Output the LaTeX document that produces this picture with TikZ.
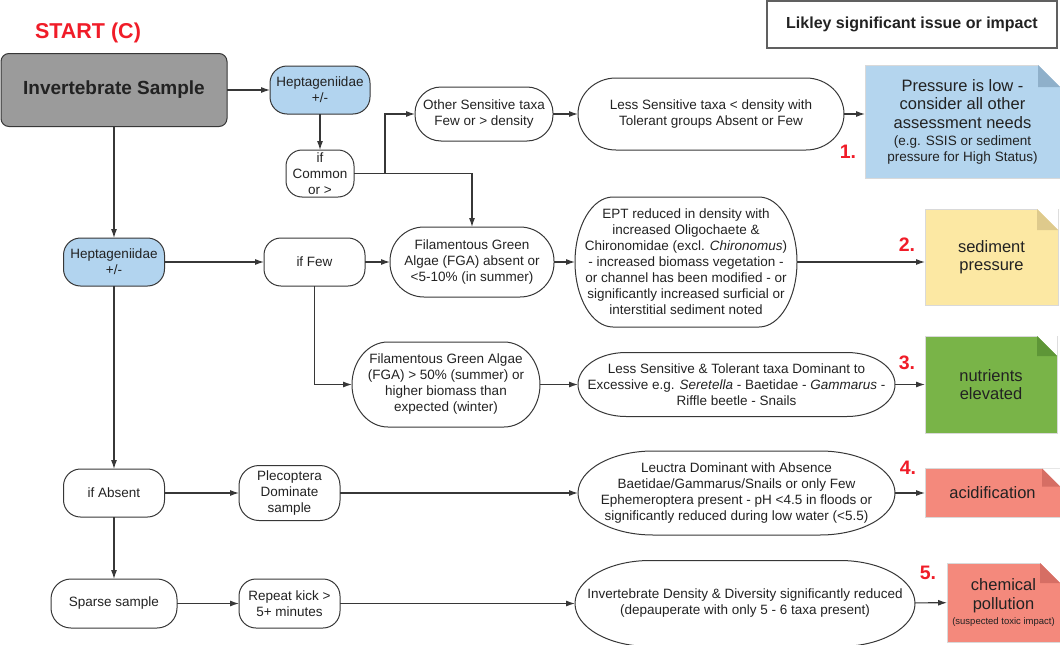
\documentclass[tikz,border=0pt]{standalone}
\usepackage{fontspec}
\setmainfont{Liberation Sans}
\usetikzlibrary{arrows.meta}

\definecolor{boxgray}{RGB}{155,155,155}
\definecolor{hepblue}{RGB}{178,212,239}
\definecolor{noteblue}{RGB}{180,213,238}
\definecolor{earblue}{RGB}{143,176,202}
\definecolor{noteyellow}{RGB}{252,232,163}
\definecolor{earyellow}{RGB}{222,202,140}
\definecolor{notegreen}{RGB}{121,180,72}
\definecolor{eargreen}{RGB}{94,150,55}
\definecolor{notered}{RGB}{244,137,124}
\definecolor{earred}{RGB}{214,110,100}
\definecolor{startred}{RGB}{240,28,40}
\definecolor{linegray}{RGB}{55,55,55}
\definecolor{txt}{RGB}{34,34,34}

\begin{document}
\begin{tikzpicture}[x=1pt,y=-1pt]
	\useasboundingbox (0,0) rectangle (1060,645);
	
	\tikzset{pill/.style = {draw=linegray, line width=1pt, rounded corners=17pt, align=center, inner sep=0pt, outer sep=0pt, text=txt, font=\fontsize{13.5}{16}\selectfont}};
	\tikzset{bluepill/.style = {pill, fill=hepblue}};
	\tikzset{capsule/.style = {align=center, inner sep=0pt, outer sep=0pt, text=txt, font=\fontsize{13.5}{16}\selectfont}};
	\tikzset{note/.style = {draw=black!15, line width=0.6pt, inner sep=0pt, outer sep=0pt, align=center, text=txt, font=\fontsize{16.5}{18.5}\selectfont}};
	\tikzset{flow/.style = {draw=linegray, line width=1.1pt, -{Latex[length=9pt,width=6pt]}}};
	\tikzset{tag/.style = {text=startred, font=\bfseries\fontsize{19.5}{22}\selectfont}};
	
	%outline of the long boxes
	\newcommand{\capsuleline}[3]
	{
		\draw[draw=linegray, line width=1pt] ([xshift=#2]#1.north west) -- ([xshift=-#2]#1.north east)
			arc[start angle=90, end angle=-90, x radius=#2, y radius=#3]
			-- ([xshift=#2]#1.south west)
			arc[start angle=270, end angle=90, x radius=#2, y radius=#3] -- cycle;
	};
	%folded corner
	\newcommand{\dogear}[3]
	{
		\fill[white] ([xshift=-#2]#1.north east) -- (#1.north east) -- ([yshift=-#2]#1.north east) -- cycle;
		\fill[#3] ([xshift=-#2]#1.north east) -- ([xshift=-#2,yshift=-#2]#1.north east) -- ([yshift=-#2]#1.north east) -- cycle;
	};
	
	%head
	\node[tag, font=\bfseries\fontsize{21.5}{24}\selectfont] (start) at (88,33) {START (C)};
	\node[draw=gray!75!black, line width=1.5pt, minimum width=290pt, minimum height=47pt, text=txt, font=\bfseries\fontsize{16}{18}\selectfont] (legend) at (912,24.5) {Likley significant issue or impact};
	\node[pill, fill=boxgray, rounded corners=8pt, minimum width=226pt, minimum height=73pt, font=\bfseries\fontsize{19}{22}\selectfont] (sample) at (114,90) {Invertebrate Sample};
	
	%row 1
	\node[bluepill, minimum width=100pt, minimum height=48pt] (heptA) at (320,90) {Heptageniidae\\+/-};
	\node[pill, rounded corners=16pt, minimum width=68pt, minimum height=47pt] (common) at (320,173.5) {if\\Common\\or >};
	\node[pill, rounded corners=26pt, minimum width=138pt, minimum height=54pt] (other) at (484,114) {Other Sensitive taxa\\Few or > density};
	\node[capsule, minimum width=266pt, minimum height=72pt] (lessA) at (711,114) {Less Sensitive taxa < density with\\Tolerant groups Absent or Few};
	\capsuleline{lessA}{38pt}{36pt}
	\node[note, fill=noteblue, minimum width=195pt, minimum height=113pt] (pressure) at (962.5,121.5) {Pressure is low -\\consider all other\\assessment needs\\[-1pt]{\fontsize{13.5}{16}\selectfont (e.g. SSIS or sediment}\\[-3pt]{\fontsize{13.5}{16}\selectfont pressure for High Status)}};
	\dogear{pressure}{22pt}{earblue}
	\node[tag] (n1) at (848,152) {1.};
	
	%row 2
	\node[bluepill, minimum width=101pt, minimum height=48pt] (heptB) at (114,262) {Heptageniidae\\+/-};
	\node[pill, minimum width=101pt, minimum height=48pt] (few) at (314.5,262) {if Few};
	\node[pill, rounded corners=34pt, minimum width=164pt, minimum height=70pt] (fgaA) at (472,262) {Filamentous Green\\Algae (FGA) absent or\\<5-10\% (in summer)};
	\node[capsule, minimum width=222pt, minimum height=130pt] (ept) at (686,262) {EPT reduced in density with\\increased Oligochaete \&\\Chironomidae (excl. \textit{Chironomus})\\- increased biomass vegetation -\\or channel has been modified - or\\significantly increased surficial or\\interstitial sediment noted};
	\capsuleline{ept}{38pt}{65pt}
	\node[note, fill=noteyellow, minimum width=133pt, minimum height=96pt] (sediment) at (991.5,257) {sediment\\pressure};
	\dogear{sediment}{21pt}{earyellow}
	\node[tag] (n2) at (907,245) {2.};
	
	%row 3
	\node[capsule, minimum width=188pt, minimum height=85pt] (fgaB) at (446,384.5) {Filamentous Green Algae\\(FGA) > 50\% (summer) or\\higher biomass than\\expected (winter)};
	\capsuleline{fgaB}{36pt}{42.5pt}
	\node[capsule, minimum width=317pt, minimum height=64pt] (lessB) at (736.5,384.5) {Less Sensitive \& Tolerant taxa Dominant to\\Excessive e.g. \textit{Seretella} - Baetidae - \textit{Gammarus} -\\Riffle beetle - Snails};
	\capsuleline{lessB}{48pt}{32pt}
	\node[note, fill=notegreen, minimum width=132pt, minimum height=97pt] (nutrients) at (991,384.5) {nutrients\\elevated};
	\dogear{nutrients}{20pt}{eargreen}
	\node[tag] (n3) at (907,363) {3.};
	
	%row 4
	\node[pill, minimum width=101pt, minimum height=48pt] (absent) at (114,493) {if Absent};
	\node[pill, rounded corners=20pt, minimum width=101pt, minimum height=55pt] (pleco) at (289.5,493) {Plecoptera\\Dominate\\sample};
	\node[capsule, minimum width=317pt, minimum height=84pt] (leuctra) at (736.5,493) {Leuctra Dominant with Absence\\Baetidae/Gammarus/Snails or only Few\\Ephemeroptera present - pH <4.5 in floods or\\significantly reduced during low water (<5.5)};
	\capsuleline{leuctra}{75pt}{42pt}
	\node[note, fill=notered, minimum width=135pt, minimum height=49pt] (acid) at (992.5,493) {acidification};
	\dogear{acid}{18pt}{earred}
	\node[tag] (n4) at (908,468) {4.};
	
	%row 5
	\node[pill, rounded corners=20pt, minimum width=126pt, minimum height=49pt] (sparse) at (114,603.5) {Sparse sample};
	\node[pill, minimum width=101pt, minimum height=49pt] (repeat) at (289.5,603.5) {Repeat kick >\\5+ minutes};
	\node[capsule, minimum width=340pt, minimum height=86pt] (density) at (745,603.5) {Invertebrate Density \& Diversity significantly reduced\\(depauperate with only 5 - 6 taxa present)};
	\capsuleline{density}{75pt}{43pt}
	\node[note, fill=notered, minimum width=113pt, minimum height=79pt] (chem) at (1003.5,602.5) {chemical\\pollution\\[-4pt]{\fontsize{9.5}{11}\selectfont (suspected toxic impact)}};
	\dogear{chem}{20pt}{earred}
	\node[tag] (n5) at (928,573) {5.};
	
	%arrows
	\draw[flow] (sample) -- (heptA);
	\draw[flow] (heptA) -- (common);
	\draw[flow] (common.east) -| (fgaA.north);
	\coordinate (fork) at (385,173.5);
	\draw[flow] (fork) |- (other.west);
	\draw[flow] (other) -- (lessA);
	\draw[flow] (lessA.east) -- (lessA.east -| pressure.west);
	
	\draw[flow] (sample) -- (heptB);
	\draw[flow] (heptB) -- (few);
	\draw[flow] (few) -- (fgaA);
	\draw[flow] (fgaA) -- (ept);
	\draw[flow] (ept.east) -- (ept.east -| sediment.west);
	
	\draw[flow] (few) |- (fgaB);
	\draw[flow] (fgaB) -- (lessB);
	\draw[flow] (lessB) -- (nutrients);
	
	\draw[flow] (heptB) -- (absent);
	\draw[flow] (absent) -- (pleco);
	\draw[flow] (pleco) -- (leuctra);
	\draw[flow] (leuctra) -- (acid);
	
	\draw[flow] (absent) -- (sparse);
	\draw[flow] (sparse) -- (repeat);
	\draw[flow] (repeat) -- (density);
	\draw[flow] (density) -- (chem);
\end{tikzpicture}
\end{document}
